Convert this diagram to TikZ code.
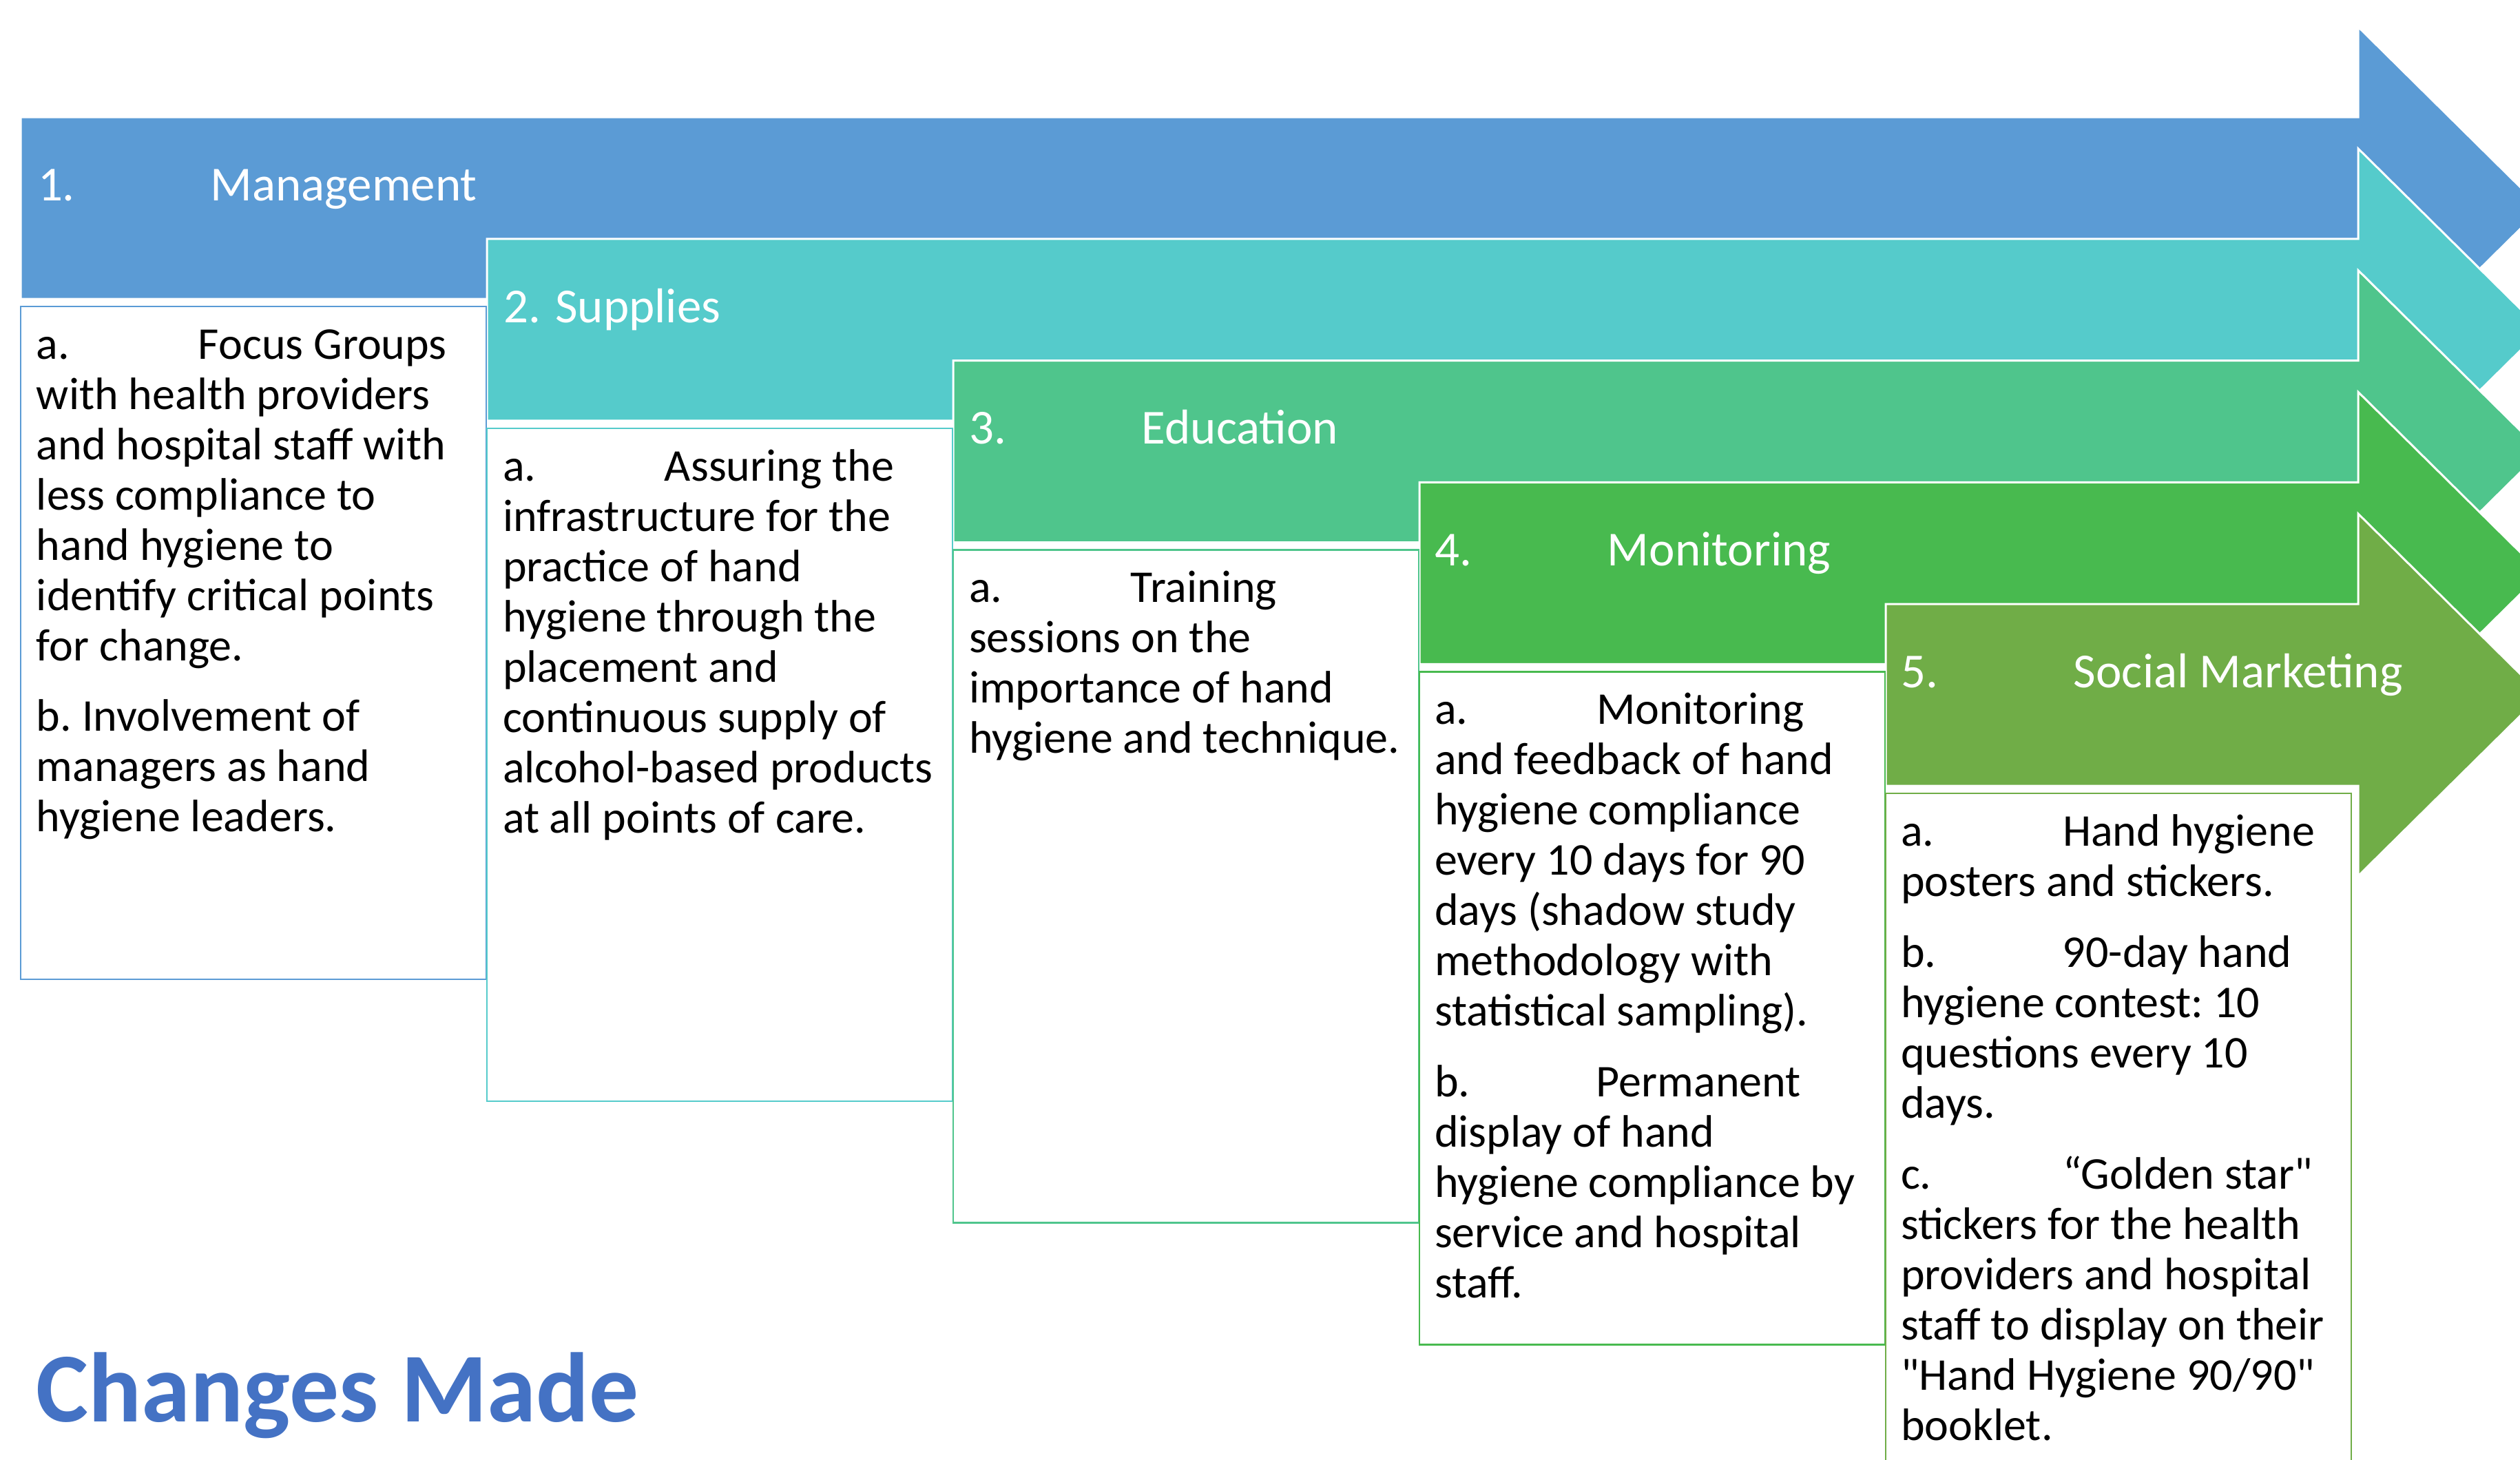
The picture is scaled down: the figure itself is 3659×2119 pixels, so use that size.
\documentclass[tikz,border=0pt]{standalone}
\usepackage{fontspec}
\setmainfont{Carlito}[Ligatures=TeXOff]
\definecolor{c1}{HTML}{5B9BD5}
\definecolor{c2}{HTML}{55CBCB}
\definecolor{c3}{HTML}{4FC58C}
\definecolor{c4}{HTML}{48BA4F}
\definecolor{c5}{HTML}{70AD47}
\definecolor{cm}{HTML}{4472C4}
\newcommand{\tabA}[1]{\makebox[47pt][l]{#1}}
\newcommand{\tabT}[1]{\makebox[50.2pt][l]{#1}}
\tikzset{
  titletext/.style={anchor=base west, inner sep=0pt, text=white, font=\fontsize{14.2pt}{17pt}\selectfont},
  bodytext/.style={anchor=base west, inner sep=0pt, text=black},
  arrowshape/.style={draw=white, line width=0.6pt},
  boxshape/.style={line width=0.5pt, fill=white}
}
\newcommand{\bodypar}[1]{\parbox[t]{150pt}{\raggedright\frenchspacing\fontsize{13.2pt}{14.6pt}\selectfont #1}}
\begin{document}
\begin{tikzpicture}[x=0.2pt,y=-0.2pt]
\useasboundingbox (0,0) rectangle (3659,2119);
% arrows
\foreach \k/\col in {0/c1,1/c2,2/c3,3/c4,4/c5}{
  \pgfmathsetmacro\L{30+677*\k}
  \pgfmathsetmacro\T{170+176.75*\k}
  \pgfmathsetmacro\B{\T+264}
  \pgfmathsetmacro\HT{\T-131}
  \pgfmathsetmacro\HB{\B+131}
  \pgfmathsetmacro\M{(\T+\B)/2}
  \path[arrowshape, fill=\col] (\L,\T) -- (3424,\T) -- (3424,\HT) -- (3690,\M) -- (3424,\HB) -- (3424,\B) -- (\L,\B) -- cycle;
}
% boxes
\foreach \k/\col in {0/c1,1/c2,2/c3,3/c4,4/c5}{
  \pgfmathsetmacro\L{30+677*\k}
  \pgfmathsetmacro\BT{445+176.75*\k}
  \path[boxshape, draw=\col] (\L,\BT) rectangle (\L+676,\BT+977);
}
% titles
\node[titletext] (h1) at (54,291) {\tabT{1.}Management};
\node[titletext] (h2) at (730,468) {2. Supplies};
\node[titletext] (h3) at (1406,644.5) {\tabT{3.}Education};
\node[titletext] (h4) at (2082,821) {\tabT{4.}Monitoring};
\node[titletext] (h5) at (2759,998) {\tabT{5.}Social Marketing};
% bodies
\node[bodytext] (t1) at (52,521) {\bodypar{\tabA{a.}Focus Groups\\ with health providers\\ and hospital staff with\\ less compliance to\\ hand hygiene to\\ identify critical points\\ for change.\\[5.8pt] b. Involvement of\\ managers as hand\\ hygiene leaders.}};
\node[bodytext] (t2) at (729,698) {\bodypar{\tabA{a.}Assuring the\\ infrastructure for the\\ practice of hand\\ hygiene through the\\ placement and\\ continuous supply of\\ alcohol-based products\\ at all points of care.}};
\node[bodytext] (t3) at (1406,874.5) {\bodypar{\tabA{a.}Training\\ sessions on the\\ importance of hand\\ hygiene and technique.}};
\node[bodytext] (t4) at (2082,1051) {\bodypar{\tabA{a.}Monitoring\\ and feedback of hand\\ hygiene compliance\\ every 10 days for 90\\ days (shadow study\\ methodology with\\ statistical sampling).\\[6pt] \tabA{b.}Permanent\\ display of hand\\ hygiene compliance by\\ service and hospital\\ staff.}};
\node[bodytext] (t5) at (2759,1228) {\bodypar{\tabA{a.}Hand hygiene\\ posters and stickers.\\[6pt] \tabA{b.}90-day hand\\ hygiene contest: 10\\ questions every 10\\ days.\\[6pt] \tabA{c.}“Golden star"\\ stickers for the health\\ providers and hospital\\ staff to display on their\\ "Hand Hygiene 90/90"\\ booklet.}};
% heading
\node[anchor=base west, inner sep=0pt, text=cm, font=\bfseries\fontsize{28.7pt}{33pt}\selectfont] (cm) at (52,2064) {Changes Made};
\end{tikzpicture}
\end{document}
